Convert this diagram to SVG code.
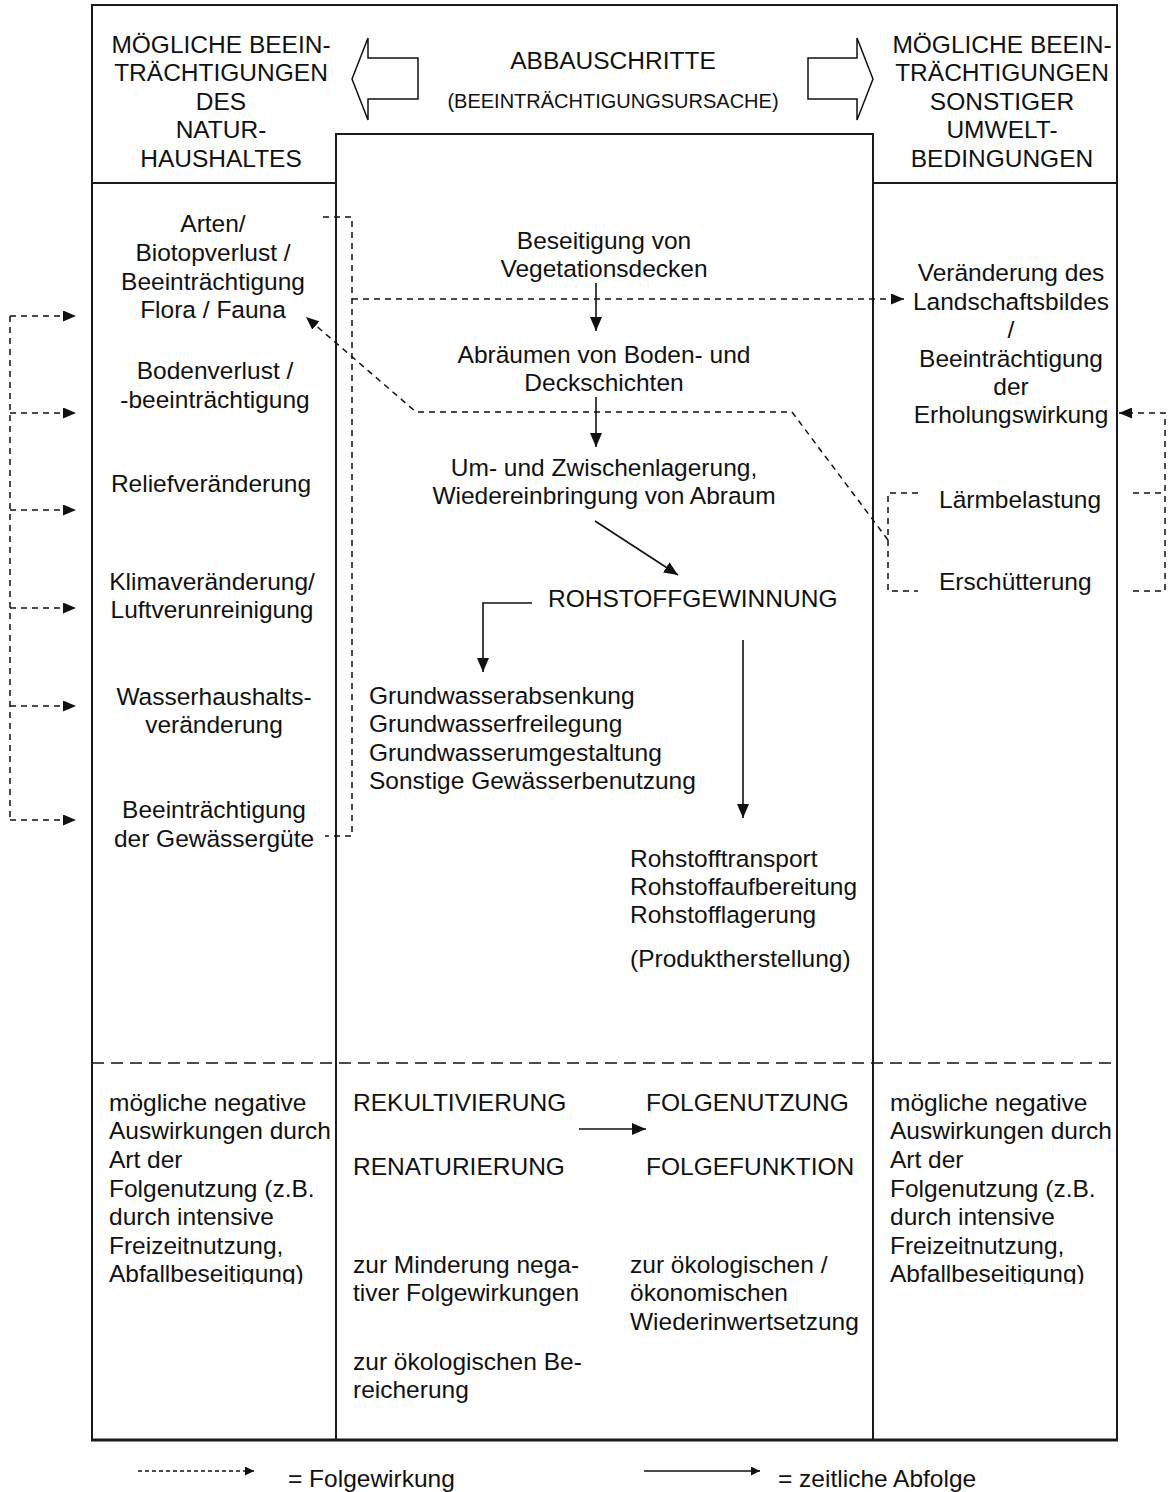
<svg xmlns="http://www.w3.org/2000/svg" width="1168" height="1492" viewBox="0 0 1168 1492">
<style>
text{font-family:"Liberation Sans",Arial,Helvetica,sans-serif;font-size:24.5px;fill:#111}
.m{text-anchor:middle}
.fr{fill:none;stroke:#1a1a1a;stroke-width:2}
.sol{fill:none;stroke:#111;stroke-width:1.6}
.dsh{fill:none;stroke:#111;stroke-width:1.5;stroke-dasharray:6 5}
.sep{fill:none;stroke:#111;stroke-width:1.5;stroke-dasharray:12 7}
.hollow{fill:#fff;stroke:#111;stroke-width:1.5}
</style>
<defs>
<marker id="ah" markerUnits="userSpaceOnUse" markerWidth="15" markerHeight="12" refX="14" refY="6" orient="auto"><path d="M0,0 L14,6 L0,12 z" fill="#111"/></marker>
<marker id="ahd" markerUnits="userSpaceOnUse" markerWidth="14" markerHeight="11" refX="13" refY="5.5" orient="auto"><path d="M0,0 L13,5.5 L0,11 z" fill="#111"/></marker>
<marker id="ahs" markerUnits="userSpaceOnUse" markerWidth="10" markerHeight="9" refX="9" refY="4.5" orient="auto"><path d="M0,0 L9,4.5 L0,9 z" fill="#111"/></marker>
<clipPath id="clipL"><rect x="92" y="1064" width="244" height="220"/></clipPath>
<clipPath id="clipR"><rect x="873" y="1064" width="244" height="220"/></clipPath>
</defs>
<rect width="1168" height="1492" fill="#fff"/>

<g id="frame">
<rect class="fr" x="92" y="5" width="1025" height="1435"/>
<line x1="91" y1="1440" x2="1118" y2="1440" stroke="#1a1a1a" stroke-width="3"/>
<line class="fr" x1="92" y1="183" x2="336" y2="183"/>
<line class="fr" x1="873" y1="183" x2="1117" y2="183"/>
<path class="fr" d="M336,1440 V134 H873 V1440"/>
<line class="sep" x1="92" y1="1063" x2="1117" y2="1063"/>
</g>

<g id="header-left">
<text class="m" x="221" y="53">MÖGLICHE BEEIN-</text>
<text class="m" x="221" y="81">TRÄCHTIGUNGEN</text>
<text class="m" x="221" y="110">DES</text>
<text class="m" x="221" y="138">NATUR-</text>
<text class="m" x="221" y="167">HAUSHALTES</text>
</g>
<g id="header-center">
<text class="m" x="613" y="69">ABBAUSCHRITTE</text>
<text class="m" x="613" y="108" style="font-size:20px">(BEEINTRÄCHTIGUNGSURSACHE)</text>
<polygon class="hollow" points="352,79 368,38 368,58 418,58 418,99 368,99 368,120"/>
<polygon class="hollow" points="873,79 857,38 857,58 808,58 808,99 857,99 857,120"/>
</g>
<g id="header-right">
<text class="m" x="1002" y="53">MÖGLICHE BEEIN-</text>
<text class="m" x="1002" y="81">TRÄCHTIGUNGEN</text>
<text class="m" x="1002" y="110">SONSTIGER</text>
<text class="m" x="1002" y="138">UMWELT-</text>
<text class="m" x="1002" y="167">BEDINGUNGEN</text>
</g>

<g id="n-arten">
<text class="m" x="213" y="232">Arten/</text>
<text class="m" x="213" y="261">Biotopverlust /</text>
<text class="m" x="213" y="290">Beeinträchtigung</text>
<text class="m" x="213" y="318">Flora / Fauna</text>
</g>
<g id="n-boden">
<text class="m" x="215" y="379">Bodenverlust /</text>
<text class="m" x="215" y="408">-beeinträchtigung</text>
</g>
<g id="n-relief"><text class="m" x="211" y="492">Reliefveränderung</text></g>
<g id="n-klima">
<text class="m" x="212" y="590">Klimaveränderung/</text>
<text class="m" x="212" y="618">Luftverunreinigung</text>
</g>
<g id="n-wasser">
<text class="m" x="214" y="705">Wasserhaushalts-</text>
<text class="m" x="214" y="733">veränderung</text>
</g>
<g id="n-guete">
<text class="m" x="214" y="818">Beeinträchtigung</text>
<text class="m" x="214" y="847">der Gewässergüte</text>
</g>

<g id="n-vegetation">
<text class="m" x="604" y="249">Beseitigung von</text>
<text class="m" x="604" y="277">Vegetationsdecken</text>
</g>
<g id="n-abraeumen">
<text class="m" x="604" y="363">Abräumen von Boden- und</text>
<text class="m" x="604" y="391">Deckschichten</text>
</g>
<g id="n-lagerung">
<text class="m" x="604" y="476">Um- und Zwischenlagerung,</text>
<text class="m" x="604" y="504">Wiedereinbringung von Abraum</text>
</g>
<g id="n-rohstoff"><text x="548" y="607">ROHSTOFFGEWINNUNG</text></g>
<g id="n-grundwasser">
<text x="369" y="704">Grundwasserabsenkung</text>
<text x="369" y="732">Grundwasserfreilegung</text>
<text x="369" y="761">Grundwasserumgestaltung</text>
<text x="369" y="789">Sonstige Gewässerbenutzung</text>
</g>
<g id="n-transport">
<text x="630" y="867">Rohstofftransport</text>
<text x="630" y="895">Rohstoffaufbereitung</text>
<text x="630" y="923">Rohstofflagerung</text>
<text x="630" y="967">(Produktherstellung)</text>
</g>

<g id="n-landschaft">
<text class="m" x="1011" y="281">Veränderung des</text>
<text class="m" x="1011" y="310">Landschaftsbildes</text>
<text class="m" x="1011" y="338">/</text>
<text class="m" x="1011" y="367">Beeinträchtigung</text>
<text class="m" x="1011" y="395">der</text>
<text class="m" x="1011" y="423">Erholungswirkung</text>
</g>
<g id="n-laerm"><text x="939" y="508">Lärmbelastung</text></g>
<g id="n-erschuetterung"><text x="939" y="590">Erschütterung</text></g>

<g id="n-neg-left" clip-path="url(#clipL)">
<text x="109" y="1111">mögliche negative</text>
<text x="109" y="1139">Auswirkungen durch</text>
<text x="109" y="1168">Art der</text>
<text x="109" y="1197">Folgenutzung (z.B.</text>
<text x="109" y="1225">durch intensive</text>
<text x="109" y="1254">Freizeitnutzung,</text>
<text x="109" y="1282">Abfallbeseitigung)</text>
</g>
<g id="n-rekult">
<text x="353" y="1111">REKULTIVIERUNG</text>
<text x="353" y="1175">RENATURIERUNG</text>
</g>
<g id="n-folge">
<text x="646" y="1111">FOLGENUTZUNG</text>
<text x="646" y="1175">FOLGEFUNKTION</text>
</g>
<g id="n-minderung">
<text x="353" y="1273">zur Minderung nega-</text>
<text x="353" y="1301">tiver Folgewirkungen</text>
<text x="353" y="1370">zur ökologischen Be-</text>
<text x="353" y="1398">reicherung</text>
</g>
<g id="n-wiederinwert">
<text x="630" y="1273">zur ökologischen /</text>
<text x="630" y="1301">ökonomischen</text>
<text x="630" y="1330">Wiederinwertsetzung</text>
</g>
<g id="n-neg-right" clip-path="url(#clipR)">
<text x="890" y="1111">mögliche negative</text>
<text x="890" y="1139">Auswirkungen durch</text>
<text x="890" y="1168">Art der</text>
<text x="890" y="1197">Folgenutzung (z.B.</text>
<text x="890" y="1225">durch intensive</text>
<text x="890" y="1254">Freizeitnutzung,</text>
<text x="890" y="1282">Abfallbeseitigung)</text>
</g>

<g id="connectors">
<path class="sol" d="M596,283 V331" marker-end="url(#ah)"/>
<path class="sol" d="M596,397 V447" marker-end="url(#ah)"/>
<path class="sol" d="M595,521 L678,575" marker-end="url(#ah)"/>
<path class="sol" d="M532,603 H483 V672" marker-end="url(#ah)"/>
<path class="sol" d="M743,640 V818" marker-end="url(#ah)"/>
<path class="sol" d="M579,1129 H646" marker-end="url(#ah)"/>

<path class="dsh" d="M10,316 V820"/>
<path class="dsh" d="M10,316 H76" marker-end="url(#ahd)"/>
<path class="dsh" d="M10,413 H76" marker-end="url(#ahd)"/>
<path class="dsh" d="M10,510 H76" marker-end="url(#ahd)"/>
<path class="dsh" d="M10,608 H76" marker-end="url(#ahd)"/>
<path class="dsh" d="M10,706 H76" marker-end="url(#ahd)"/>
<path class="dsh" d="M10,820 H76" marker-end="url(#ahd)"/>

<path class="dsh" d="M323,217 H352 V836 H325"/>
<path class="dsh" d="M352,299 H904" marker-end="url(#ahd)"/>
<path class="dsh" d="M888,540 L792,412 H416 L306,317" marker-end="url(#ahd)"/>
<path class="dsh" d="M918,493 H888 V591 H918"/>
<path class="dsh" d="M1133,591 H1165 V413 H1119" marker-end="url(#ahd)"/>
<path class="dsh" d="M1133,493 H1165"/>
</g>

<g id="legend">
<path fill="none" stroke="#111" stroke-width="1.3" stroke-dasharray="4 3" d="M138,1471 H254" marker-end="url(#ahs)"/>
<text x="288" y="1487">= Folgewirkung</text>
<path class="sol" d="M644,1471 H760" marker-end="url(#ahs)"/>
<text x="778" y="1487">= zeitliche Abfolge</text>
</g>
</svg>
